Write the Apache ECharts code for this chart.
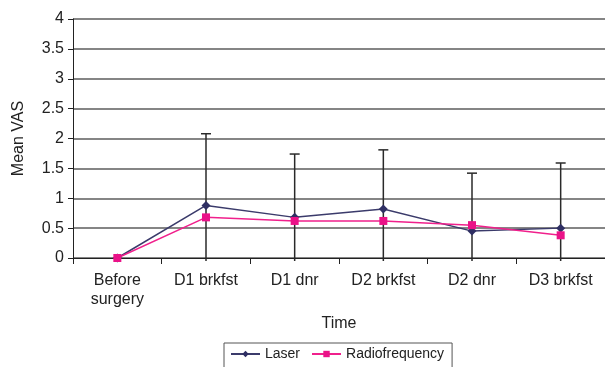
<!DOCTYPE html>
<html><head><meta charset="utf-8">
<script src="https://cdn.jsdelivr.net/npm/echarts@6/dist/echarts.min.js"></script>
<style>html,body{margin:0;padding:0;background:#fff}#c{width:605px;height:367px}</style>
</head><body><div id="c"></div>
<script>
const categories = ['Before\nsurgery', 'D1 brkfst', 'D1 dnr', 'D2 brkfst', 'D2 dnr', 'D3 brkfst'];
const laser = [0, 0.88, 0.68, 0.82, 0.45, 0.5];
const radiofrequency = [0, 0.68, 0.62, 0.62, 0.55, 0.38];
const errorTop = [null, 2.08, 1.74, 1.81, 1.42, 1.59];
const yTicks = [0, 0.5, 1, 1.5, 2, 2.5, 3, 3.5, 4];

const font = 'Liberation Sans, Arial, sans-serif';
const errData = [];
errorTop.forEach((v, i) => { if (v !== null) errData.push([i, v]); });

const chart = echarts.init(document.getElementById('c'), null, {renderer: 'canvas'});
chart.setOption({
  animation: false,
  backgroundColor: '#fff',
  textStyle: {fontFamily: font},
  grid: {left: 73, top: 19, width: 539, height: 239, containLabel: false},
  xAxis: {
    type: 'category', data: categories, boundaryGap: true,
    name: 'Time', nameLocation: 'middle', nameGap: 58,
    nameTextStyle: {fontSize: 16, color: '#222', fontFamily: font},
    axisLine: {show: true, lineStyle: {color: '#222', width: 1}},
    axisTick: {show: true, length: 6, inside: false, lineStyle: {color: '#222'}},
    axisLabel: {fontSize: 16, color: '#222', margin: 13, lineHeight: 19, fontFamily: font, interval: 0},
    splitLine: {show: false}
  },
  yAxis: {
    type: 'value', min: yTicks[0], max: yTicks[yTicks.length - 1], interval: 0.5,
    name: 'Mean VAS', nameLocation: 'middle', nameGap: 46,
    nameTextStyle: {fontSize: 16, color: '#222', fontFamily: font},
    axisLine: {show: true, lineStyle: {color: '#222', width: 1}},
    axisTick: {show: true, length: 5, lineStyle: {color: '#222'}},
    axisLabel: {fontSize: 16, color: '#222', margin: 9, fontFamily: font},
    splitLine: {show: true, lineStyle: {color: '#858585', width: 2}}
  },
  legend: {
    data: ['Laser', 'Radiofrequency'],
    left: 224, top: 343,
    borderColor: '#555', borderWidth: 1,
    padding: [4, 8, 10, 6],
    itemWidth: 29, itemHeight: 8, itemGap: 11,
    textStyle: {fontSize: 14, color: '#222', fontFamily: font}
  },
  series: [
    {
      type: 'custom', z: 1, silent: true,
      data: errData,
      renderItem: function (params, api) {
        const x = api.coord([api.value(0), 0])[0];
        const y0 = api.coord([api.value(0), 0])[1] + 3;
        const y1 = api.coord([api.value(0), api.value(1)])[1];
        const s = {stroke: '#2a2a2a', lineWidth: 1.5};
        return {type: 'group', children: [
          {type: 'line', shape: {x1: x, y1: y0, x2: x, y2: y1}, style: s},
          {type: 'line', shape: {x1: x - 5, y1: y1, x2: x + 5, y2: y1}, style: s}
        ]};
      }
    },
    {
      name: 'Laser', type: 'line', z: 2, data: laser,
      symbol: 'diamond', symbolSize: 9,
      lineStyle: {color: '#3b3b6b', width: 1.5},
      itemStyle: {color: '#2f2f63'}
    },
    {
      name: 'Radiofrequency', type: 'line', z: 3, data: radiofrequency,
      symbol: 'rect', symbolSize: 8,
      lineStyle: {color: '#f0208c', width: 1.5},
      itemStyle: {color: '#ea1288'}
    }
  ]
});
</script></body></html>
